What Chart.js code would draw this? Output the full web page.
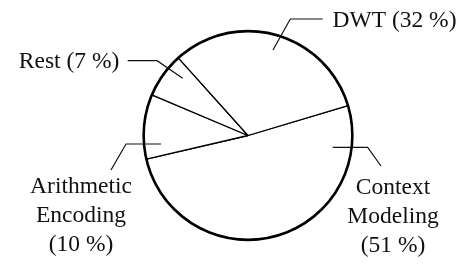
<!DOCTYPE html>
<html>
<head>
<meta charset="utf-8">
<script src="https://cdn.jsdelivr.net/npm/chart.js@4/dist/chart.umd.min.js"></script>
<style>
  html, body { margin: 0; padding: 0; background: #fff; }
  #wrap { width: 462px; height: 264px; }
</style>
</head>
<body>
<div id="wrap"><canvas id="chartPie" width="462" height="264"></canvas></div>
<script>
// data (order = clockwise, starting at the right-hand boundary)
const categories = ['Context Modeling', 'Arithmetic Encoding', 'Rest', 'DWT'];
const shares = [51, 10, 7, 32];
// label lines shown next to each slice
const labelLines = [
  ['Context', 'Modeling', '(51 %)'],
  ['Arithmetic', 'Encoding', '(10 %)'],
  ['Rest (7 %)'],
  ['DWT (32 %)'],
];

// leader lines + text placement, offsets from the pie centre (px)
const labelLayout = [
  { pts: [[84.7, 11.8], [119.7, 11.8], [133, 30.5]], x: 145, y: 58.8, align: 'center' },
  { pts: [[-87, 8.5], [-122, 8.5], [-137, 34.5]], x: -167, y: 57.2, align: 'center' },
  { pts: [[-65.3, -57.2], [-91, -74.8], [-120.3, -74.8]], x: -128.7, y: -67.5, align: 'right' },
  { pts: [[25, -85.5], [42.3, -116.5], [74.7, -116.5]], x: 84.5, y: -108.8, align: 'left' },
];

// plugin: thick outer circle + leader lines + labels
const pieLabels = {
  id: 'pieLabels',
  afterDatasetsDraw(chart) {
    const ctx = chart.ctx;
    const arc = chart.getDatasetMeta(0).data[0];
    const cx = arc.x, cy = arc.y, r = arc.outerRadius;

    ctx.save();
    ctx.beginPath();
    ctx.arc(cx, cy, r, 0, Math.PI * 2);
    ctx.lineWidth = 2.6;
    ctx.strokeStyle = '#000';
    ctx.stroke();

    ctx.lineWidth = 1.2;
    ctx.strokeStyle = '#111';
    ctx.fillStyle = '#111';
    ctx.font = '23.5px "Liberation Serif"';
    ctx.textBaseline = 'alphabetic';
    labelLayout.forEach((lay, i) => {
      ctx.beginPath();
      lay.pts.forEach((p, k) => {
        if (k === 0) ctx.moveTo(cx + p[0], cy + p[1]);
        else ctx.lineTo(cx + p[0], cy + p[1]);
      });
      ctx.stroke();
      ctx.textAlign = lay.align;
      labelLines[i].forEach((line, j) => {
        ctx.fillText(line, cx + lay.x, cy + lay.y + j * 29);
      });
    });
    ctx.restore();
  },
};

const ctxPie = document.getElementById('chartPie').getContext('2d');
const chartPie = new Chart(ctxPie, {
  type: 'pie',
  data: {
    labels: categories,
    datasets: [
      {
        data: shares,
        backgroundColor: '#ffffff',
        borderColor: '#000000',
        borderWidth: 1.3,
        borderAlign: 'center',
      },
    ],
  },
  options: {
    responsive: false,
    animation: false,
    rotation: 73.3, // first boundary a bit above the horizontal, right side
    layout: {
      padding: { left: 143, right: 109, top: 30, bottom: 23 },
    },
    plugins: {
      legend: { display: false },
      tooltip: { enabled: false },
    },
  },
  plugins: [pieLabels],
});
</script>
</body>
</html>
